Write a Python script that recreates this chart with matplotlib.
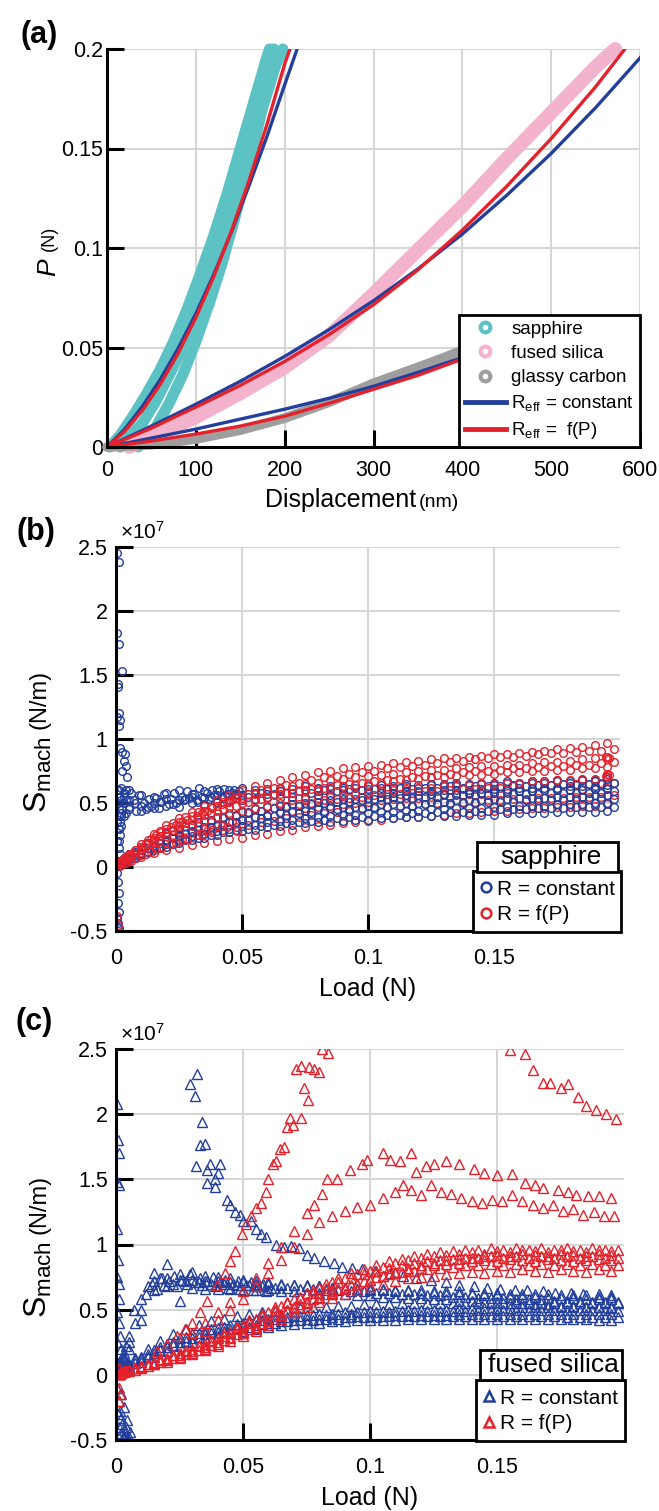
import matplotlib
matplotlib.use('Agg')
import matplotlib.pyplot as plt
from matplotlib.lines import Line2D
from matplotlib.patches import Rectangle

plt.rcParams['font.family'] = ['Liberation Sans', 'DejaVu Sans']
plt.rcParams['mathtext.fontset'] = 'custom'
plt.rcParams['mathtext.rm'] = 'Liberation Sans'
plt.rcParams['mathtext.it'] = 'Liberation Sans:italic'
plt.rcParams['mathtext.bf'] = 'Liberation Sans:bold'

teal = '#5cc2c4'
pink = '#f3b3cc'
gray = '#9e9e9e'
blue = '#233f9c'
red = '#e5212b'
grid_c = '#d6d6d6'

# ---------------- panel (a): load vs displacement ----------------
sap_h1 = [3, 15, 30, 45, 60, 75, 90, 105, 120, 135, 150, 165, 180, 183]
sap_p1 = [0, 0.006, 0.016, 0.027, 0.039, 0.053, 0.069, 0.087, 0.106, 0.127, 0.150, 0.173, 0.196, 0.2]
sap_h2 = [35, 45, 55, 70, 85, 100, 115, 130, 145, 160, 175, 190, 198]
sap_p2 = [0, 0.004, 0.010, 0.022, 0.036, 0.053, 0.072, 0.093, 0.117, 0.143, 0.170, 0.192, 0.2]
sap_h3 = [15, 25, 40, 55, 70, 85, 100, 115, 130, 145, 160, 175, 188]
sap_p3 = [0, 0.004, 0.012, 0.023, 0.036, 0.050, 0.066, 0.084, 0.104, 0.127, 0.150, 0.175, 0.2]
fs_h = [25, 50, 100, 150, 200, 250, 300, 350, 400, 450, 500, 550, 572]
fs_p = [0, 0.005, 0.015, 0.027, 0.040, 0.056, 0.077, 0.099, 0.121, 0.145, 0.168, 0.191, 0.2]
gc_h = [0, 50, 100, 150, 200, 250, 300, 350, 380, 405]
gc_p = [0, 0.0012, 0.004, 0.0085, 0.0145, 0.0225, 0.032, 0.040, 0.045, 0.0495]

sap_blue_h = [0, 20, 40, 60, 80, 100, 120, 140, 160, 180, 200, 214]
sap_blue_p = [0, 0.009, 0.0205, 0.034, 0.0495, 0.067, 0.0865, 0.108, 0.1315, 0.156, 0.182, 0.2]
sap_red_h = [0, 20, 40, 60, 80, 100, 120, 140, 160, 180, 200, 206]
sap_red_p = [0, 0.008, 0.0185, 0.0315, 0.047, 0.065, 0.0855, 0.1085, 0.134, 0.162, 0.1925, 0.2]
fs_blue_h = [0, 50, 100, 150, 200, 250, 300, 350, 400, 450, 500, 550, 600]
fs_blue_p = [0, 0.0105, 0.0215, 0.033, 0.0455, 0.059, 0.0735, 0.0895, 0.107, 0.1265, 0.1475, 0.1705, 0.1955]
fs_red_h = [0, 50, 100, 150, 200, 250, 300, 350, 400, 450, 500, 550, 583]
fs_red_p = [0, 0.0095, 0.020, 0.031, 0.043, 0.0565, 0.0715, 0.089, 0.109, 0.131, 0.155, 0.181, 0.2]
gc_blue_h = [0, 50, 100, 150, 200, 250, 300, 350, 414]
gc_blue_p = [0, 0.0045, 0.009, 0.014, 0.019, 0.0245, 0.0305, 0.0375, 0.047]
gc_red_h = [0, 50, 100, 150, 200, 250, 300, 350, 414]
gc_red_p = [0, 0.003, 0.0065, 0.0105, 0.0155, 0.022, 0.029, 0.036, 0.0465]

# ---------------- panels (b), (c): stiffness vs load (x1e7 N/m) ----------------
load = [0.001, 0.002, 0.003, 0.005, 0.01, 0.015, 0.02, 0.025, 0.03, 0.035,
        0.04, 0.045, 0.05, 0.055, 0.06, 0.065, 0.07, 0.075, 0.08, 0.085,
        0.09, 0.095, 0.1, 0.105, 0.11, 0.115, 0.12, 0.125, 0.13, 0.135,
        0.14, 0.145, 0.15, 0.155, 0.16, 0.165, 0.17, 0.175, 0.18, 0.185,
        0.19, 0.195]
load2 = [0.0015, 0.0025, 0.004, 0.0075, 0.0125, 0.0175, 0.0225, 0.0275, 0.0325, 0.0375,
         0.0425, 0.0475, 0.0525, 0.0575, 0.0625, 0.0675, 0.0725, 0.0775, 0.0825, 0.0875,
         0.0925, 0.0975, 0.1025, 0.1075, 0.1125, 0.1175, 0.1225, 0.1275, 0.1325, 0.1375,
         0.1425, 0.1475, 0.1525, 0.1575, 0.1625, 0.1675, 0.1725, 0.1775, 0.1825, 0.1875,
         0.1925, 0.1975]

sap_const = [
    [0.30, 0.42, 0.50, 0.52, 0.48, 0.50, 0.53, 0.52, 0.55, 0.54, 0.56, 0.57, 0.56, 0.58, 0.57, 0.59, 0.58, 0.60, 0.59, 0.61,
     0.60, 0.62, 0.61, 0.62, 0.62, 0.63, 0.62, 0.64, 0.63, 0.64, 0.64, 0.65, 0.64, 0.66, 0.65, 0.66, 0.66, 0.67, 0.66, 0.68, 0.67, 0.69],
    [0.20, 0.32, 0.40, 0.45, 0.44, 0.46, 0.48, 0.47, 0.50, 0.49, 0.51, 0.52, 0.52, 0.53, 0.54, 0.54, 0.55, 0.55, 0.56, 0.56,
     0.57, 0.57, 0.58, 0.58, 0.58, 0.59, 0.59, 0.59, 0.60, 0.60, 0.60, 0.61, 0.61, 0.61, 0.62, 0.62, 0.62, 0.62, 0.63, 0.63, 0.63, 0.64],
    [0.03, 0.05, 0.07, 0.10, 0.16, 0.21, 0.26, 0.30, 0.33, 0.36, 0.39, 0.41, 0.43, 0.45, 0.47, 0.48, 0.49, 0.50, 0.51, 0.52,
     0.53, 0.53, 0.54, 0.55, 0.55, 0.56, 0.56, 0.57, 0.57, 0.57, 0.58, 0.58, 0.58, 0.59, 0.59, 0.59, 0.60, 0.60, 0.60, 0.60, 0.61, 0.61],
    [0.02, 0.04, 0.06, 0.08, 0.13, 0.17, 0.21, 0.25, 0.28, 0.31, 0.33, 0.35, 0.37, 0.39, 0.40, 0.42, 0.43, 0.44, 0.45, 0.46,
     0.47, 0.47, 0.48, 0.49, 0.49, 0.50, 0.50, 0.51, 0.51, 0.52, 0.52, 0.52, 0.53, 0.53, 0.54, 0.54, 0.54, 0.55, 0.55, 0.55, 0.56, 0.56],
    [0.02, 0.03, 0.04, 0.06, 0.10, 0.13, 0.16, 0.19, 0.21, 0.23, 0.25, 0.27, 0.28, 0.29, 0.31, 0.32, 0.33, 0.34, 0.35, 0.35,
     0.36, 0.37, 0.37, 0.38, 0.38, 0.39, 0.39, 0.40, 0.40, 0.40, 0.41, 0.41, 0.41, 0.42, 0.42, 0.42, 0.42, 0.43, 0.43, 0.43, 0.43, 0.44],
    [0.02, 0.04, 0.05, 0.07, 0.11, 0.15, 0.18, 0.21, 0.24, 0.26, 0.28, 0.30, 0.32, 0.33, 0.35, 0.36, 0.37, 0.38, 0.39, 0.40,
     0.41, 0.41, 0.42, 0.43, 0.43, 0.44, 0.44, 0.45, 0.45, 0.46, 0.46, 0.46, 0.47, 0.47, 0.48, 0.48, 0.48, 0.49, 0.49, 0.49, 0.50, 0.50],
    [0.40, 0.52, 0.58, 0.60, 0.56, 0.55, 0.58, 0.60, 0.57, 0.59, 0.61, 0.60, 0.62, 0.60, 0.61, 0.62, 0.61, 0.63, 0.62, 0.63,
     0.62, 0.64, 0.63, 0.64, 0.63, 0.65, 0.64, 0.65, 0.65, 0.66, 0.65, 0.66, 0.66, 0.67, 0.66, 0.67, 0.67, 0.68, 0.67, 0.68, 0.68, 0.70],
]
sap_const2 = [
    [0.03, 0.04, 0.06, 0.12, 0.19, 0.24, 0.28, 0.32, 0.35, 0.37, 0.39, 0.41, 0.43, 0.44, 0.46, 0.47, 0.48, 0.49, 0.50, 0.51,
     0.51, 0.52, 0.53, 0.53, 0.54, 0.54, 0.55, 0.55, 0.55, 0.56, 0.56, 0.56, 0.57, 0.57, 0.57, 0.57, 0.58, 0.58, 0.58, 0.58, 0.58, 0.59],
    [0.35, 0.45, 0.52, 0.50, 0.47, 0.51, 0.49, 0.53, 0.51, 0.55, 0.54, 0.57, 0.55, 0.58, 0.57, 0.58, 0.59, 0.58, 0.60, 0.59,
     0.61, 0.60, 0.61, 0.61, 0.62, 0.61, 0.62, 0.62, 0.63, 0.62, 0.63, 0.63, 0.63, 0.64, 0.63, 0.64, 0.64, 0.65, 0.64, 0.65, 0.65, 0.66],
    [0.02, 0.03, 0.05, 0.08, 0.12, 0.15, 0.18, 0.21, 0.23, 0.25, 0.27, 0.29, 0.30, 0.32, 0.33, 0.34, 0.35, 0.36, 0.37, 0.38,
     0.39, 0.39, 0.40, 0.41, 0.41, 0.42, 0.42, 0.43, 0.43, 0.43, 0.44, 0.44, 0.45, 0.45, 0.45, 0.46, 0.46, 0.46, 0.47, 0.47, 0.47, 0.47],
    [0.02, 0.04, 0.06, 0.10, 0.15, 0.19, 0.23, 0.26, 0.29, 0.31, 0.33, 0.35, 0.37, 0.38, 0.40, 0.41, 0.42, 0.43, 0.44, 0.45,
     0.45, 0.46, 0.47, 0.47, 0.48, 0.48, 0.49, 0.49, 0.50, 0.50, 0.50, 0.51, 0.51, 0.51, 0.52, 0.52, 0.52, 0.52, 0.53, 0.53, 0.53, 0.53],
]
sap_fp = [
    [0.03, 0.05, 0.07, 0.10, 0.18, 0.26, 0.33, 0.38, 0.43, 0.48, 0.52, 0.56, 0.60, 0.63, 0.66, 0.68, 0.70, 0.72, 0.74, 0.75,
     0.77, 0.78, 0.79, 0.80, 0.81, 0.82, 0.83, 0.84, 0.85, 0.85, 0.86, 0.87, 0.88, 0.88, 0.89, 0.90, 0.91, 0.92, 0.93, 0.94, 0.95, 0.97],
    [0.03, 0.05, 0.06, 0.09, 0.16, 0.23, 0.30, 0.35, 0.40, 0.44, 0.48, 0.51, 0.54, 0.57, 0.59, 0.61, 0.63, 0.65, 0.66, 0.68,
     0.69, 0.70, 0.71, 0.72, 0.73, 0.74, 0.75, 0.76, 0.76, 0.77, 0.78, 0.79, 0.79, 0.80, 0.80, 0.81, 0.82, 0.82, 0.83, 0.84, 0.85, 0.86],
    [0.02, 0.04, 0.06, 0.08, 0.14, 0.21, 0.27, 0.32, 0.37, 0.41, 0.44, 0.47, 0.50, 0.52, 0.55, 0.57, 0.58, 0.60, 0.61, 0.62,
     0.63, 0.64, 0.65, 0.66, 0.67, 0.68, 0.69, 0.70, 0.70, 0.71, 0.72, 0.72, 0.73, 0.74, 0.74, 0.75, 0.75, 0.76, 0.76, 0.77, 0.77, 0.78],
    [0.02, 0.03, 0.05, 0.07, 0.13, 0.19, 0.24, 0.28, 0.32, 0.36, 0.39, 0.42, 0.44, 0.46, 0.48, 0.50, 0.52, 0.53, 0.54, 0.55,
     0.56, 0.57, 0.58, 0.59, 0.60, 0.61, 0.62, 0.62, 0.63, 0.63, 0.64, 0.65, 0.65, 0.66, 0.66, 0.67, 0.67, 0.68, 0.68, 0.69, 0.69, 0.70],
    [0.02, 0.03, 0.04, 0.06, 0.11, 0.16, 0.20, 0.24, 0.27, 0.30, 0.32, 0.35, 0.37, 0.39, 0.41, 0.43, 0.44, 0.46, 0.47, 0.48,
     0.49, 0.50, 0.51, 0.52, 0.53, 0.54, 0.54, 0.55, 0.56, 0.56, 0.57, 0.57, 0.58, 0.58, 0.59, 0.59, 0.60, 0.60, 0.60, 0.61, 0.61, 0.62],
    [0.01, 0.02, 0.03, 0.05, 0.08, 0.11, 0.13, 0.15, 0.17, 0.19, 0.20, 0.22, 0.23, 0.25, 0.26, 0.28, 0.29, 0.31, 0.32, 0.33,
     0.34, 0.35, 0.36, 0.37, 0.38, 0.39, 0.39, 0.40, 0.41, 0.42, 0.42, 0.43, 0.44, 0.44, 0.45, 0.46, 0.46, 0.47, 0.47, 0.48, 0.48, 0.49],
]
sap_fp2 = [
    [0.03, 0.05, 0.07, 0.13, 0.21, 0.28, 0.34, 0.39, 0.43, 0.47, 0.51, 0.54, 0.57, 0.60, 0.62, 0.64, 0.66, 0.68, 0.70, 0.71,
     0.73, 0.74, 0.75, 0.77, 0.78, 0.79, 0.80, 0.81, 0.82, 0.83, 0.84, 0.85, 0.86, 0.86, 0.87, 0.88, 0.89, 0.89, 0.90, 0.91, 0.91, 0.92],
    [0.02, 0.04, 0.06, 0.11, 0.18, 0.24, 0.29, 0.34, 0.38, 0.42, 0.45, 0.48, 0.51, 0.53, 0.56, 0.58, 0.59, 0.61, 0.62, 0.64,
     0.65, 0.66, 0.67, 0.68, 0.69, 0.70, 0.71, 0.72, 0.73, 0.74, 0.75, 0.75, 0.76, 0.77, 0.77, 0.78, 0.79, 0.79, 0.80, 0.80, 0.81, 0.82],
    [0.02, 0.03, 0.05, 0.09, 0.15, 0.20, 0.25, 0.29, 0.32, 0.35, 0.38, 0.40, 0.42, 0.44, 0.46, 0.48, 0.49, 0.50, 0.52, 0.53,
     0.54, 0.55, 0.56, 0.57, 0.57, 0.58, 0.59, 0.59, 0.60, 0.61, 0.61, 0.62, 0.62, 0.63, 0.63, 0.64, 0.64, 0.65, 0.65, 0.65, 0.66, 0.66],
    [0.01, 0.02, 0.04, 0.07, 0.12, 0.16, 0.19, 0.22, 0.25, 0.27, 0.29, 0.31, 0.33, 0.35, 0.36, 0.38, 0.39, 0.41, 0.42, 0.43,
     0.44, 0.45, 0.46, 0.47, 0.48, 0.48, 0.49, 0.50, 0.50, 0.51, 0.51, 0.52, 0.52, 0.53, 0.53, 0.54, 0.54, 0.54, 0.55, 0.55, 0.55, 0.56],
]
sap_cloud_x = [0.003, 0.004, 0.005, 0.006, 0.007, 0.008, 0.009, 0.011, 0.012, 0.013,
               0.014, 0.016, 0.017, 0.018, 0.019, 0.021, 0.022, 0.023, 0.024, 0.026,
               0.027, 0.028, 0.029, 0.031, 0.032, 0.033, 0.034, 0.036, 0.037, 0.038,
               0.039, 0.041, 0.042, 0.043, 0.044, 0.046, 0.047, 0.048, 0.049, 0.004]
sap_cloud_y = [0.55, 0.60, 0.47, 0.58, 0.52, 0.44, 0.56, 0.50, 0.45, 0.53,
               0.48, 0.54, 0.46, 0.51, 0.57, 0.49, 0.53, 0.58, 0.50, 0.55,
               0.52, 0.59, 0.54, 0.57, 0.52, 0.62, 0.55, 0.58, 0.53, 0.60,
               0.56, 0.59, 0.55, 0.61, 0.57, 0.58, 0.60, 0.56, 0.59, 0.42]
sap_wedge_x = [0.004, 0.006, 0.008, 0.010, 0.012, 0.014, 0.016, 0.018, 0.022, 0.024,
               0.026, 0.028, 0.032, 0.034, 0.036, 0.038, 0.042, 0.044, 0.046, 0.048,
               0.006, 0.008, 0.012, 0.014, 0.018, 0.022, 0.026, 0.028, 0.032, 0.036,
               0.038, 0.042, 0.046, 0.004, 0.010, 0.016, 0.024, 0.034, 0.044, 0.048]
sap_wedge_y = [0.06, 0.09, 0.13, 0.16, 0.19, 0.22, 0.25, 0.27, 0.31, 0.33,
               0.35, 0.37, 0.40, 0.42, 0.44, 0.46, 0.49, 0.51, 0.53, 0.55,
               0.05, 0.07, 0.10, 0.12, 0.15, 0.18, 0.21, 0.22, 0.25, 0.28,
               0.29, 0.32, 0.35, 0.03, 0.09, 0.14, 0.19, 0.26, 0.31, 0.28]
sap_spike_x = [0.0003, 0.0012, 0.0003, 0.0013, 0.0025, 0.0008, 0.0008, 0.0002, 0.0010, 0.0014,
               0.0012, 0.0015, 0.0025, 0.0035, 0.0030, 0.0038, 0.0022, 0.0045, 0.0003, 0.0010,
               0.0020, 0.0005, 0.0008, 0.0010, 0.0006, 0.0012, 0.0004, 0.0009, 0.0007, 0.0011,
               0.0005, 0.0010, 0.0015, 0.0005, 0.0010, 0.0015, 0.0020, 0.0005, 0.0010, 0.0015,
               0.0008, 0.0012]
sap_spike_y = [2.45, 2.38, 1.83, 1.74, 1.53, 1.43, 1.41, 1.17, 1.20, 1.15,
               1.10, 0.93, 0.90, 0.88, 0.83, 0.79, 0.75, 0.70, 0.60, 0.55,
               0.62, -0.05, -0.12, -0.20, -0.28, -0.35, -0.40, -0.44, -0.47, -0.48,
               0.05, 0.15, 0.25, 0.35, 0.45, 0.55, 0.40, 0.20, 0.30, 0.10,
               0.50, 0.60]
sap_red_extra_x = [0.1945, 0.195, 0.1955, 0.195, 0.1945, 0.1955, 0.0003, 0.0008]
sap_red_extra_y = [0.71, 0.73, 0.72, 0.84, 0.86, 0.85, -0.38, -0.45]

fsil_const = [
    [0.06, 0.10, 0.14, 0.25, 0.50, 0.72, 0.74, 0.73, 0.73, 0.72, 0.72, 0.71, 0.71, 0.70, 0.70, 0.69, 0.69, 0.68, 0.68, 0.67,
     0.67, 0.66, 0.66, 0.66, 0.65, 0.65, 0.65, 0.64, 0.64, 0.64, 0.63, 0.63, 0.63, 0.62, 0.62, 0.62, 0.62, 0.61, 0.61, 0.61, 0.60, 0.60],
    [0.05, 0.08, 0.12, 0.20, 0.42, 0.65, 0.68, 0.57, 0.67, 0.66, 0.66, 0.66, 0.65, 0.65, 0.65, 0.64, 0.64, 0.63, 0.63, 0.62,
     0.62, 0.61, 0.61, 0.60, 0.60, 0.59, 0.59, 0.58, 0.58, 0.57, 0.57, 0.56, 0.56, 0.55, 0.55, 0.54, 0.54, 0.53, 0.53, 0.52, 0.52, 0.51],
    [0.07, 0.12, 0.17, 0.30, 0.58, 0.78, 0.85, 0.77, 0.79, 0.76, 0.75, 0.74, 0.73, 0.72, 0.71, 0.70, 0.69, 0.69, 0.68, 0.67,
     0.67, 0.66, 0.65, 0.65, 0.64, 0.64, 0.63, 0.63, 0.62, 0.62, 0.62, 0.61, 0.61, 0.60, 0.60, 0.60, 0.59, 0.59, 0.59, 0.58, 0.58, 0.58],
    [0.02, 0.04, 0.05, 0.07, 0.12, 0.17, 0.21, 0.25, 0.28, 0.31, 0.33, 0.35, 0.37, 0.38, 0.40, 0.41, 0.42, 0.43, 0.43, 0.44,
     0.44, 0.45, 0.45, 0.45, 0.46, 0.46, 0.46, 0.46, 0.46, 0.47, 0.47, 0.47, 0.47, 0.47, 0.47, 0.47, 0.47, 0.47, 0.47, 0.47, 0.47, 0.47],
    [0.02, 0.03, 0.04, 0.06, 0.10, 0.14, 0.18, 0.22, 0.25, 0.28, 0.30, 0.32, 0.34, 0.35, 0.37, 0.38, 0.39, 0.40, 0.40, 0.41,
     0.41, 0.42, 0.42, 0.42, 0.42, 0.43, 0.43, 0.43, 0.43, 0.43, 0.43, 0.43, 0.43, 0.43, 0.43, 0.43, 0.43, 0.43, 0.43, 0.43, 0.42, 0.42],
    [0.03, 0.05, 0.06, 0.08, 0.14, 0.19, 0.24, 0.28, 0.31, 0.34, 0.36, 0.38, 0.40, 0.42, 0.43, 0.44, 0.45, 0.46, 0.47, 0.47,
     0.48, 0.48, 0.49, 0.49, 0.49, 0.50, 0.50, 0.50, 0.50, 0.51, 0.51, 0.51, 0.51, 0.51, 0.52, 0.52, 0.52, 0.52, 0.52, 0.52, 0.52, 0.52],
]
fsil_const2 = [
    [0.02, 0.03, 0.05, 0.09, 0.14, 0.19, 0.23, 0.26, 0.29, 0.32, 0.34, 0.36, 0.37, 0.39, 0.40, 0.41, 0.42, 0.42, 0.43, 0.43,
     0.44, 0.44, 0.44, 0.45, 0.45, 0.45, 0.45, 0.45, 0.45, 0.45, 0.45, 0.45, 0.45, 0.45, 0.45, 0.45, 0.45, 0.44, 0.44, 0.44, 0.44, 0.44],
    [0.03, 0.04, 0.06, 0.11, 0.16, 0.21, 0.25, 0.29, 0.32, 0.35, 0.37, 0.39, 0.41, 0.42, 0.43, 0.44, 0.45, 0.46, 0.46, 0.47,
     0.47, 0.48, 0.48, 0.48, 0.49, 0.49, 0.49, 0.49, 0.49, 0.49, 0.50, 0.50, 0.50, 0.50, 0.50, 0.50, 0.50, 0.50, 0.50, 0.50, 0.50, 0.49],
    [0.08, 0.14, 0.22, 0.40, 0.68, 0.74, 0.70, 0.72, 0.71, 0.70, 0.70, 0.69, 0.69, 0.68, 0.67, 0.67, 0.66, 0.66, 0.65, 0.65,
     0.64, 0.64, 0.63, 0.63, 0.62, 0.62, 0.61, 0.61, 0.60, 0.60, 0.59, 0.59, 0.59, 0.58, 0.58, 0.58, 0.57, 0.57, 0.57, 0.56, 0.56, 0.56],
    [0.03, 0.05, 0.08, 0.13, 0.20, 0.26, 0.31, 0.35, 0.38, 0.41, 0.43, 0.45, 0.47, 0.48, 0.49, 0.50, 0.51, 0.52, 0.52, 0.53,
     0.53, 0.54, 0.54, 0.54, 0.55, 0.55, 0.55, 0.55, 0.55, 0.55, 0.55, 0.55, 0.55, 0.55, 0.55, 0.55, 0.55, 0.55, 0.55, 0.55, 0.55, 0.55],
]
fsil_plateau_x = [0.012, 0.014, 0.016, 0.018, 0.019, 0.021, 0.023, 0.024, 0.026, 0.028,
                  0.029, 0.031, 0.033, 0.034, 0.036, 0.038, 0.039, 0.041, 0.043, 0.044,
                  0.046, 0.048, 0.049, 0.051, 0.053, 0.054, 0.056, 0.058, 0.059, 0.061]
fsil_plateau_y = [0.62, 0.70, 0.66, 0.74, 0.69, 0.72, 0.76, 0.68, 0.73, 0.70,
                  0.77, 0.71, 0.74, 0.69, 0.72, 0.75, 0.68, 0.71, 0.73, 0.67,
                  0.70, 0.72, 0.66, 0.69, 0.71, 0.65, 0.68, 0.70, 0.64, 0.67]
fsil_fp = [
    [0.01, 0.02, 0.03, 0.04, 0.07, 0.10, 0.13, 0.17, 0.20, 0.24, 0.28, 0.33, 0.38, 0.43, 0.48, 0.53, 0.58, 0.63, 0.67, 0.71,
     0.74, 0.77, 0.80, 0.83, 0.86, 0.88, 0.90, 0.91, 0.92, 0.93, 0.94, 0.93, 0.95, 0.94, 0.96, 0.95, 0.94, 0.96, 0.95, 0.94, 0.96, 0.95],
    [0.01, 0.02, 0.03, 0.04, 0.06, 0.09, 0.12, 0.15, 0.18, 0.21, 0.25, 0.29, 0.33, 0.37, 0.42, 0.47, 0.52, 0.56, 0.60, 0.64,
     0.67, 0.70, 0.73, 0.76, 0.78, 0.80, 0.82, 0.84, 0.85, 0.86, 0.87, 0.88, 0.87, 0.89, 0.88, 0.87, 0.89, 0.88, 0.87, 0.88, 0.89, 0.88],
    [0.01, 0.015, 0.02, 0.03, 0.05, 0.08, 0.10, 0.13, 0.16, 0.19, 0.22, 0.26, 0.30, 0.34, 0.38, 0.43, 0.48, 0.52, 0.56, 0.59,
     0.62, 0.65, 0.68, 0.70, 0.72, 0.74, 0.75, 0.76, 0.77, 0.78, 0.79, 0.78, 0.80, 0.79, 0.81, 0.80, 0.79, 0.81, 0.80, 0.79, 0.81, 0.80],
    [0.01, 0.02, 0.03, 0.04, 0.06, 0.08, 0.11, 0.14, 0.17, 0.20, 0.24, 0.28, 0.32, 0.36, 0.41, 0.46, 0.51, 0.55, 0.59, 0.63,
     0.66, 0.70, 0.73, 0.76, 0.79, 0.82, 0.84, 0.86, 0.88, 0.89, 0.90, 0.91, 0.92, 0.91, 0.93, 0.92, 0.91, 0.93, 0.92, 0.91, 0.93, 0.92],
]
fsil_fp2 = [
    [0.01, 0.02, 0.03, 0.05, 0.08, 0.12, 0.15, 0.18, 0.22, 0.26, 0.30, 0.35, 0.40, 0.45, 0.50, 0.55, 0.59, 0.63, 0.67, 0.71,
     0.74, 0.77, 0.80, 0.82, 0.84, 0.86, 0.87, 0.88, 0.89, 0.90, 0.90, 0.91, 0.90, 0.91, 0.90, 0.91, 0.90, 0.91, 0.90, 0.91, 0.90, 0.90],
    [0.01, 0.02, 0.03, 0.04, 0.07, 0.10, 0.13, 0.16, 0.19, 0.23, 0.27, 0.31, 0.35, 0.40, 0.45, 0.50, 0.54, 0.58, 0.62, 0.66,
     0.69, 0.72, 0.75, 0.77, 0.79, 0.80, 0.81, 0.82, 0.83, 0.84, 0.84, 0.85, 0.84, 0.85, 0.84, 0.85, 0.84, 0.85, 0.84, 0.85, 0.84, 0.84],
    [0.01, 0.02, 0.03, 0.05, 0.08, 0.11, 0.15, 0.19, 0.23, 0.27, 0.32, 0.37, 0.42, 0.47, 0.52, 0.56, 0.60, 0.65, 0.70, 0.74,
     0.78, 0.81, 0.84, 0.87, 0.89, 0.91, 0.93, 0.94, 0.95, 0.96, 0.96, 0.97, 0.96, 0.97, 0.96, 0.97, 0.96, 0.97, 0.96, 0.97, 0.96, 0.96],
]
fsil_fall_x = [0.0293, 0.032, 0.031, 0.034, 0.033, 0.035, 0.0315, 0.036, 0.037, 0.041, 0.036, 0.039, 0.039, 0.040,
               0.0437, 0.045, 0.047, 0.049, 0.050, 0.053, 0.055, 0.057, 0.059, 0.063, 0.066, 0.069, 0.072, 0.075,
               0.078, 0.082, 0.086, 0.089, 0.093, 0.097, 0.102, 0.108, 0.113, 0.118, 0.124, 0.13, 0.135, 0.141,
               0.146, 0.151, 0.157, 0.162, 0.168, 0.173, 0.179, 0.184, 0.19, 0.195]
fsil_fall_y = [2.23, 2.31, 2.14, 1.94, 1.76, 1.77, 1.60, 1.57, 1.62, 1.62, 1.47, 1.50, 1.44, 1.55,
               1.34, 1.30, 1.25, 1.23, 1.18, 1.18, 1.12, 1.08, 1.06, 1.00, 0.98, 0.99, 0.97, 0.92,
               0.90, 0.87, 0.86, 0.83, 0.82, 0.81, 0.80, 0.78, 0.76, 0.74, 0.73, 0.71, 0.69, 0.68,
               0.67, 0.66, 0.65, 0.65, 0.64, 0.63, 0.63, 0.62, 0.62, 0.61]
fsil_rise_x = [0.016, 0.02, 0.024, 0.027, 0.030, 0.033, 0.036, 0.0397, 0.043, 0.045, 0.047, 0.0495, 0.051, 0.053,
               0.055, 0.057, 0.059, 0.060, 0.062, 0.063, 0.0645, 0.066, 0.0675, 0.0687, 0.0695, 0.0727, 0.074,
               0.0755, 0.071, 0.073, 0.076, 0.078, 0.080, 0.081, 0.0833]
fsil_rise_y = [0.18, 0.24, 0.30, 0.35, 0.40, 0.48, 0.57, 0.69, 0.78, 0.87, 0.95, 1.08, 1.16, 1.22,
               1.28, 1.32, 1.40, 1.50, 1.62, 1.64, 1.73, 1.75, 1.90, 1.97, 1.92, 1.97, 2.20,
               2.11, 2.35, 2.37, 2.36, 2.35, 2.32, 2.50, 2.47]
fsil_top_x = [0.155, 0.161, 0.164, 0.168, 0.171, 0.175, 0.178, 0.182, 0.185, 0.189, 0.193, 0.197]
fsil_top_y = [2.49, 2.46, 2.34, 2.24, 2.24, 2.20, 2.23, 2.13, 2.06, 2.03, 2.00, 1.96]
fsil_mid1_x = [0.03, 0.035, 0.04, 0.045, 0.05, 0.055, 0.06, 0.065, 0.07, 0.075, 0.078, 0.081, 0.083, 0.087,
               0.092, 0.097, 0.099, 0.105, 0.108, 0.112, 0.116, 0.118, 0.122, 0.125, 0.13, 0.135, 0.141, 0.145,
               0.15, 0.156, 0.161, 0.165, 0.168, 0.174, 0.178, 0.181, 0.186, 0.19, 0.195]
fsil_mid1_y = [0.32, 0.40, 0.48, 0.56, 0.64, 0.74, 0.86, 0.98, 1.10, 1.24, 1.30, 1.39, 1.50, 1.50,
               1.57, 1.62, 1.65, 1.70, 1.65, 1.64, 1.70, 1.56, 1.60, 1.62, 1.64, 1.62, 1.58, 1.55,
               1.53, 1.54, 1.47, 1.46, 1.43, 1.42, 1.40, 1.38, 1.37, 1.37, 1.36]
fsil_mid2_x = [0.035, 0.04, 0.045, 0.05, 0.055, 0.06, 0.065, 0.07, 0.075, 0.08, 0.085, 0.09, 0.095, 0.1,
               0.105, 0.11, 0.113, 0.116, 0.12, 0.124, 0.128, 0.132, 0.136, 0.14, 0.144, 0.148, 0.152, 0.156,
               0.16, 0.164, 0.168, 0.172, 0.176, 0.18, 0.184, 0.188, 0.192, 0.196]
fsil_mid2_y = [0.34, 0.42, 0.50, 0.58, 0.68, 0.78, 0.88, 0.98, 1.08, 1.17, 1.22, 1.26, 1.29, 1.30,
               1.36, 1.40, 1.46, 1.42, 1.38, 1.46, 1.40, 1.39, 1.36, 1.33, 1.32, 1.34, 1.33, 1.38,
               1.33, 1.30, 1.28, 1.30, 1.26, 1.27, 1.23, 1.25, 1.22, 1.22]
fsil_spike_x = [0.0005, 0.0008, 0.001, 0.0005, 0.001, 0.0005, 0.0008, 0.0005, 0.001, 0.001, 0.0005, 0.001,
                0.0015, 0.002, 0.0005, 0.001, 0.0015, 0.002, 0.0025, 0.003, 0.0035, 0.004, 0.005, 0.0008,
                0.002, 0.003, 0.004, 0.001, 0.0015, 0.0005, 0.007, 0.0045, 0.0055, 0.003, 0.002, 0.001]
fsil_spike_y = [2.08, 1.80, 1.70, 1.48, 1.46, 1.12, 0.88, 0.75, 0.70, 0.58, 0.48, 0.40,
                0.30, 0.20, -0.10, -0.20, -0.28, -0.33, -0.38, -0.42, -0.45, -0.47, -0.48, -0.30,
                -0.45, -0.48, -0.40, 0.10, 0.05, 0.25, 0.50, -0.35, -0.44, -0.25, -0.15, -0.40]
fsil_red_spike_x = [0.001, 0.0015, 0.001, 0.0012]
fsil_red_spike_y = [-0.10, -0.15, -0.20, 0.05]

s_ticks = [-0.5, 0, 0.5, 1, 1.5, 2, 2.5]
s_labels = ['-0.5', '0', '0.5', '1', '1.5', '2', '2.5']
load_ticks = [0, 0.05, 0.1, 0.15]
load_labels = ['0', '0.05', '0.1', '0.15']

W, H = 659.0, 1511.0
fig = plt.figure(figsize=(6.59, 15.11), dpi=100)


def box(l, t, r, b):
    return [l / W, 1 - b / H, (r - l) / W, (b - t) / H]


def style(ax, xpad, ypad):
    for s in ['top', 'right']:
        ax.spines[s].set_visible(False)
    for s in ['left', 'bottom']:
        ax.spines[s].set_linewidth(2.2)
    ax.tick_params(direction='in', length=12, width=2.2, labelsize=15.5, top=False, right=False)
    ax.tick_params(axis='x', pad=xpad)
    ax.tick_params(axis='y', pad=ypad)
    ax.grid(True, color=grid_c, lw=1.5)
    ax.set_axisbelow(True)


ax_a = fig.add_axes(box(107, 49, 640, 447))
ax_b = fig.add_axes(box(116, 547, 620, 931))
ax_c = fig.add_axes(box(116, 1049, 624, 1440))

# ---- (a)
for h, p in [(sap_h1, sap_p1), (sap_h2, sap_p2), (sap_h3, sap_p3)]:
    ax_a.plot(h, p, color=teal, lw=8, solid_capstyle='round', clip_on=False)
ax_a.plot(fs_h, fs_p, color=pink, lw=10, solid_capstyle='round', clip_on=False)
ax_a.plot(gc_h, gc_p, color=gray, lw=7, solid_capstyle='round', clip_on=False)
for h, p in [(sap_blue_h, sap_blue_p), (fs_blue_h, fs_blue_p), (gc_blue_h, gc_blue_p)]:
    ax_a.plot(h, p, color=blue, lw=2.4)
for h, p in [(sap_red_h, sap_red_p), (fs_red_h, fs_red_p), (gc_red_h, gc_red_p)]:
    ax_a.plot(h, p, color=red, lw=2.4)
ax_a.set_xlim(0, 600)
ax_a.set_ylim(0, 0.2)
ax_a.set_xticks([0, 100, 200, 300, 400, 500, 600])
ax_a.set_xticklabels(['0', '100', '200', '300', '400', '500', '600'])
ax_a.set_yticks([0, 0.05, 0.1, 0.15, 0.2])
ax_a.set_yticklabels(['0', '0.05', '0.1', '0.15', '0.2'])
style(ax_a, 9, 3)

handles_a = [
    Line2D([], [], ls='none', marker='o', ms=7, mfc='none', mec=teal, mew=3),
    Line2D([], [], ls='none', marker='o', ms=7, mfc='none', mec=pink, mew=3),
    Line2D([], [], ls='none', marker='o', ms=7, mfc='none', mec=gray, mew=3),
    Line2D([], [], color=blue, lw=3.5),
    Line2D([], [], color=red, lw=3.5),
]
labels_a = ['sapphire', 'fused silica', 'glassy carbon',
            r'R$_{\mathregular{eff}}$ = constant', r'R$_{\mathregular{eff}}$ =  f(P)']
leg = ax_a.legend(handles_a, labels_a, loc='lower right', bbox_to_anchor=(1.0, 0.0),
                  borderaxespad=0, fontsize=13.5, handlelength=2.2, handletextpad=0.3,
                  borderpad=0.3, labelspacing=0.38, fancybox=False, edgecolor='black', framealpha=1)
leg.get_frame().set_linewidth(2)

fig.text(39 / W, 1 - 35 / H, '(a)', fontsize=22, fontweight='bold', ha='center', va='center')
fig.text(48 / W, 1 - 276 / H, 'P', fontsize=19, fontstyle='italic', rotation=90, ha='center', va='bottom')
fig.text(49 / W, 1 - 251 / H, '(N)', fontsize=13, rotation=90, ha='center', va='bottom')
fig.text(416 / W, 1 - 507 / H, 'Displacement', fontsize=18, ha='right', va='baseline')
fig.text(419 / W, 1 - 507 / H, '(nm)', fontsize=14, ha='left', va='baseline')

# ---- (b)
mk_b = dict(ls='none', marker='o', ms=5.5, mfc='none', mew=1.0)
for s in sap_fp[4:]:
    ax_b.plot(load, s, mec=red, **mk_b)
for s in sap_fp2[2:]:
    ax_b.plot(load2, s, mec=red, **mk_b)
ax_b.plot(sap_spike_x, sap_spike_y, mec=blue, **mk_b)
for s in sap_const:
    ax_b.plot(load, s, mec=blue, **mk_b)
for s in sap_const2:
    ax_b.plot(load2, s, mec=blue, **mk_b)
ax_b.plot(sap_cloud_x, sap_cloud_y, mec=blue, **mk_b)
ax_b.plot(sap_wedge_x, sap_wedge_y, mec=red, **mk_b)
for s in sap_fp[:4]:
    ax_b.plot(load, s, mec=red, **mk_b)
for s in sap_fp2[:2]:
    ax_b.plot(load2, s, mec=red, **mk_b)
ax_b.plot(sap_red_extra_x, sap_red_extra_y, mec=red, **mk_b)

# ---- (c)
mk_c = dict(ls='none', marker='^', ms=7.5, mfc='none', mew=1.0)
ax_c.plot(fsil_spike_x, fsil_spike_y, mec=blue, **mk_c)
for s in fsil_const:
    ax_c.plot(load, s, mec=blue, **mk_c)
for s in fsil_const2:
    ax_c.plot(load2, s, mec=blue, **mk_c)
ax_c.plot(fsil_plateau_x, fsil_plateau_y, mec=blue, **mk_c)
ax_c.plot(fsil_fall_x, fsil_fall_y, mec=blue, **mk_c)
for s in fsil_fp:
    ax_c.plot(load, s, mec=red, **mk_c)
for s in fsil_fp2:
    ax_c.plot(load2, s, mec=red, **mk_c)
for x, y in [(fsil_rise_x, fsil_rise_y), (fsil_top_x, fsil_top_y), (fsil_mid1_x, fsil_mid1_y),
             (fsil_mid2_x, fsil_mid2_y), (fsil_red_spike_x, fsil_red_spike_y)]:
    ax_c.plot(x, y, mec=red, **mk_c)

for ax, name, marker, top_px, bot_px, right_px in [
        (ax_b, 'sapphire', 'o', 547, 931, 620), (ax_c, 'fused silica', '^', 1049, 1440, 624)]:
    ax.set_xlim(0, 0.2)
    ax.set_ylim(-0.5, 2.5)
    ax.set_xticks(load_ticks)
    ax.set_xticklabels(load_labels)
    ax.set_yticks(s_ticks)
    ax.set_yticklabels(s_labels)
    style(ax, 12, 6)
    hs = [Line2D([], [], ls='none', marker=marker, ms=7, mfc='none', mec=blue, mew=1.8),
          Line2D([], [], ls='none', marker=marker, ms=7, mfc='none', mec=red, mew=1.8)]
    lg = ax.legend(hs, ['R = constant', 'R = f(P)'], loc='lower left',
                   bbox_to_anchor=(0.708, -0.003, 0.294, 0.15), mode='expand', borderaxespad=0,
                   fontsize=15, handlelength=0.5, handletextpad=0.25, borderpad=0.4,
                   labelspacing=0.3, fancybox=False, edgecolor='black', framealpha=1)
    lg.get_frame().set_linewidth(2)
    ax.add_patch(Rectangle((0.716, 0.153), 0.28, 0.078, transform=ax.transAxes, fc='white',
                           ec='black', lw=2, clip_on=False, zorder=6))
    ax.text(0.862, 0.192, name, transform=ax.transAxes, fontsize=19, ha='center', va='center', zorder=7)
    mid = (top_px + bot_px) / 2.0
    fig.text(38 / W, 1 - (mid + 74) / H, r'S$_{\mathregular{mach}}$', fontsize=23, rotation=90,
             ha='center', va='bottom')
    fig.text(40 / W, 1 - (mid - 10) / H, '(N/m)', fontsize=17, rotation=90, ha='center', va='bottom')
    fig.text(120 / W, 1 - (top_px - 4) / H, r'$\times$10$^{7}$', fontsize=15, ha='left', va='bottom')
    fig.text((116 + right_px) / 2.0 / W, 1 - (bot_px + 46) / H, 'Load (N)', fontsize=18,
             ha='center', va='top')

fig.text(36 / W, 1 - 532 / H, '(b)', fontsize=22, fontweight='bold', ha='center', va='center')
fig.text(34 / W, 1 - 1022 / H, '(c)', fontsize=22, fontweight='bold', ha='center', va='center')

fig.savefig('out.png', dpi=100)
